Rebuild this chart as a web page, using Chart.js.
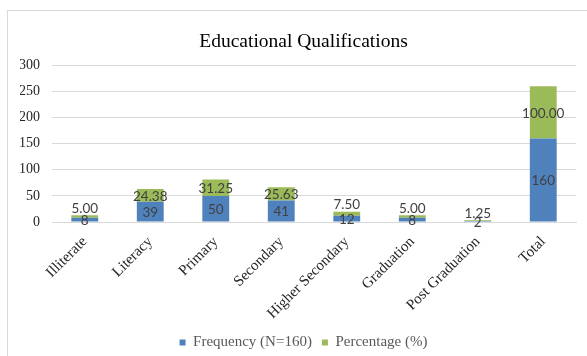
<!DOCTYPE html>
<html>
<head>
<meta charset="utf-8">
<script src="https://cdn.jsdelivr.net/npm/chart.js@4"></script>
<style>
  html, body { margin: 0; padding: 0; background: #fff; }
  #wrap { width: 587px; height: 356px; }
</style>
</head>
<body>
<div id="wrap"><canvas id="eduChart" width="587" height="356"></canvas></div>
<script>
const categories = ["Illiterate", "Literacy", "Primary", "Secondary", "Higher Secondary", "Graduation", "Post Graduation", "Total"];
const frequency = [8, 39, 50, 41, 12, 8, 2, 160];
const percentage = [5.00, 24.38, 31.25, 25.63, 7.50, 5.00, 1.25, 100.00];

const serif = "'Liberation Serif', 'Times New Roman', serif";
const sans = "Lato, 'Open Sans', sans-serif";

Chart.defaults.font.family = serif;
Chart.defaults.font.size = 14;

// light grey frame around the chart, like an office chart object
const frame = {
  id: "frame",
  beforeDraw: (chart) => {
    const { ctx } = chart;
    ctx.save();
    ctx.fillStyle = "#ffffff";
    ctx.fillRect(0, 0, chart.width, chart.height);
    ctx.strokeStyle = "#d9d9d9";
    ctx.lineWidth = 1;
    ctx.strokeRect(7.5, 10.5, chart.width + 20, chart.height + 20);
    ctx.restore();
  },
};

// value labels inside each stacked segment
const segmentLabels = {
  id: "segmentLabels",
  afterDatasetsDraw: (chart) => {
    const { ctx } = chart;
    ctx.save();
    ctx.font = "13.5px " + sans;
    ctx.fillStyle = "#404040";
    ctx.textAlign = "center";
    ctx.textBaseline = "middle";
    chart.data.datasets.forEach((ds, di) => {
      const meta = chart.getDatasetMeta(di);
      meta.data.forEach((bar, i) => {
        const v = ds.data[i];
        const top = Math.min(bar.y, bar.base);
        const h = Math.abs(bar.base - bar.y);
        let y = top + h / 2;
        let txt = String(v);
        if (di === 1) {
          txt = v.toFixed(2);
          // thin segments get their label just above the bar
          if (h < 8) y = top - 8;
        }
        ctx.fillText(txt, bar.x, y + 1);
      });
    });
    ctx.restore();
  },
};

new Chart(document.getElementById("eduChart").getContext("2d"), {
  type: "bar",
  data: {
    labels: categories,
    datasets: [
      {
        label: "Frequency (N=160)",
        data: frequency,
        backgroundColor: "#4f81bd",
        barPercentage: 0.41,
        categoryPercentage: 1,
      },
      {
        label: "Percentage (%)",
        data: percentage,
        backgroundColor: "#9bbb59",
        barPercentage: 0.41,
        categoryPercentage: 1,
      },
    ],
  },
  options: {
    responsive: false,
    animation: false,
    layout: {
      padding: { left: 20, right: 0, top: 10, bottom: -4 },
    },
    plugins: {
      tooltip: { enabled: false },
      title: {
        display: true,
        text: "Educational Qualifications",
        color: "#000000",
        font: { family: serif, size: 19.5, weight: "normal" },
        padding: { top: 20, bottom: 12 },
      },
      legend: {
        position: "bottom",
        labels: {
          font: { family: serif, size: 15 },
          color: "#595959",
          boxWidth: 6,
          boxHeight: 6,
          padding: 10,
        },
      },
    },
    scales: {
      x: {
        stacked: true,
        grid: { display: false, drawTicks: false },
        border: { color: "#d9d9d9" },
        ticks: {
          font: { family: serif, size: 15 },
          color: "#262626",
          minRotation: 45,
          maxRotation: 45,
          padding: 11,
          autoSkip: false,
        },
        afterFit: (scale) => { scale.height = 103; },
      },
      y: {
        stacked: true,
        min: 0,
        max: 300,
        grid: { color: "#d9d9d9", drawTicks: false },
        border: { display: false },
        ticks: {
          stepSize: 50,
          font: { family: serif, size: 14 },
          color: "#262626",
          padding: 12,
        },
        afterFit: (scale) => { scale.width = 32; },
      },
      // empty strip on the right so the plot stops short of the edge
      yRight: {
        position: "right",
        grid: { display: false, drawTicks: false },
        border: { display: false },
        ticks: { display: false },
        afterFit: (scale) => { scale.width = 11; },
      },
    },
  },
  plugins: [frame, segmentLabels],
});
</script>
</body>
</html>
